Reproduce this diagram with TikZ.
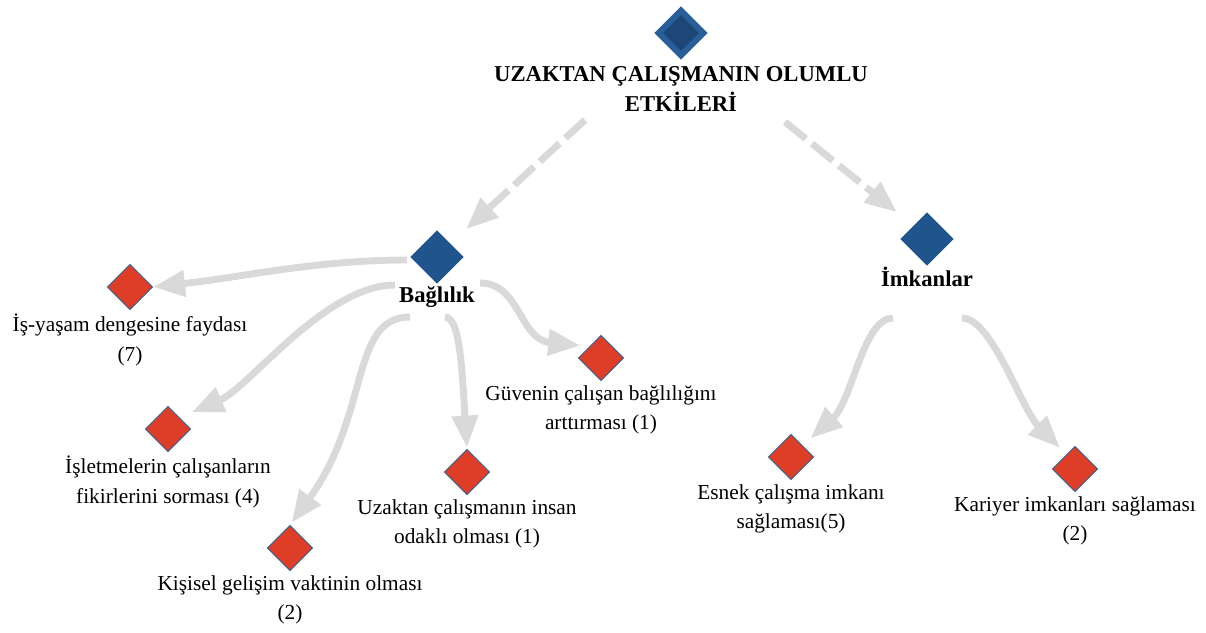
\documentclass[tikz,border=0pt]{standalone}
\usepackage{fontspec}
\setmainfont{Liberation Serif}
\usetikzlibrary{arrows.meta,positioning,shapes.geometric}
\definecolor{hubblue}{RGB}{31,85,140}
\definecolor{topouter}{RGB}{40,95,152}
\definecolor{topinner}{RGB}{29,71,118}
\definecolor{leafred}{RGB}{222,62,40}
\definecolor{edgeblue}{RGB}{46,93,142}
\definecolor{flowgrey}{RGB}{217,217,217}

\begin{document}
\begin{tikzpicture}[
  x=0.75pt, y=-0.75pt,
  hub/.style={diamond, aspect=1, inner sep=0pt, minimum width=40pt, minimum height=40pt, fill=hubblue},
  leaf/.style={diamond, aspect=1, inner sep=0pt, minimum width=34pt, minimum height=34pt, fill=leafred, draw=edgeblue, line width=0.6pt},
  head/.style={font=\fontsize{17}{22}\selectfont\bfseries, align=center, inner sep=0pt},
  lbl/.style={font=\fontsize{16}{22}\selectfont, align=center, inner sep=0pt},
  flow/.style={draw=flowgrey, line width=5.2pt, -{Triangle[length=24pt,width=19pt]}},
  dashflow/.style={flow, dash pattern=on 20pt off 6pt},
]
  \useasboundingbox (0,0) rectangle (1206,632);

  \node[hub, fill=topouter] (top) at (681,33) {};
  \node[hub, fill=topinner, minimum width=27pt, minimum height=27pt] (topin) at (top) {};
  \node[head, below=5pt of top] (title) {UZAKTAN ÇALIŞMANIN OLUMLU\\ETKİLERİ};

  \node[hub] (bag) at (437,257) {};
  \node[head, below=2pt of bag] (bagtxt) {Bağlılık};
  \node[hub] (imk) at (927,239) {};
  \node[head, below=1pt of imk] (imktxt) {İmkanlar};

  \node[leaf] (isyasam) at (130,287) {};
  \node[lbl, below=3pt of isyasam] (isyasamtxt) {İş-yaşam dengesine faydası\\(7)};
  \node[leaf] (isletme) at (168,429) {};
  \node[lbl, below=3pt of isletme] (isletmetxt) {İşletmelerin çalışanların\\fikirlerini sorması (4)};
  \node[leaf] (kisisel) at (290,548) {};
  \node[lbl, below=3pt of kisisel] (kisiseltxt) {Kişisel gelişim vaktinin olması\\(2)};
  \node[leaf] (insan) at (467,472) {};
  \node[lbl, below=3pt of insan] (insantxt) {Uzaktan çalışmanın insan\\odaklı olması (1)};
  \node[leaf] (guven) at (601,358) {};
  \node[lbl, below=3pt of guven] (guventxt) {Güvenin çalışan bağlılığını\\arttırması (1)};
  \node[leaf] (esnek) at (791,457) {};
  \node[lbl, below=3pt of esnek] (esnektxt) {Esnek çalışma imkanı\\sağlaması(5)};
  \node[leaf] (kariyer) at (1075,469) {};
  \node[lbl, below=3pt of kariyer] (kariyertxt) {Kariyer imkanları sağlaması\\(2)};

  \coordinate (dl) at (585,120);
  \coordinate (dr) at (785,122);
  \coordinate (b1) at (407,260);
  \coordinate (b2) at (395,285);
  \coordinate (b3) at (410,317);
  \coordinate (b4) at (445,317);
  \coordinate (b5) at (480,283);
  \coordinate (i1) at (893,318);
  \coordinate (i2) at (962,318);

  \draw[dashflow, shorten >=16pt] (dl) -- (bag.north east);
  \draw[dashflow, shorten >=16pt] (dr) -- (imk.north west);
  \draw[flow] (b1) .. controls +(-90,0) and +(90,-10) .. (isyasam.east);
  \draw[flow, shorten >=10pt] (b2) .. controls +(-70,0) and +(70,-30) .. (isletme.north east);
  \draw[flow, shorten >=2pt] (b3) .. controls +(-60,0) and +(80,-110) .. (kisisel.north);
  \draw[flow, shorten >=1pt] (b4) .. controls +(15,0) and +(-5,-80) .. (insan.north);
  \draw[flow, shorten >=7pt] (b5) .. controls +(40,0) and +(-70,-7) .. (guven.north west);
  \draw[flow, shorten >=8pt] (i1) .. controls +(-30,0) and +(50,-45) .. (esnek.north east);
  \draw[flow, shorten >=7pt] (i2) .. controls +(30,0) and +(-45,-45) .. (kariyer.120);
\end{tikzpicture}
\end{document}
